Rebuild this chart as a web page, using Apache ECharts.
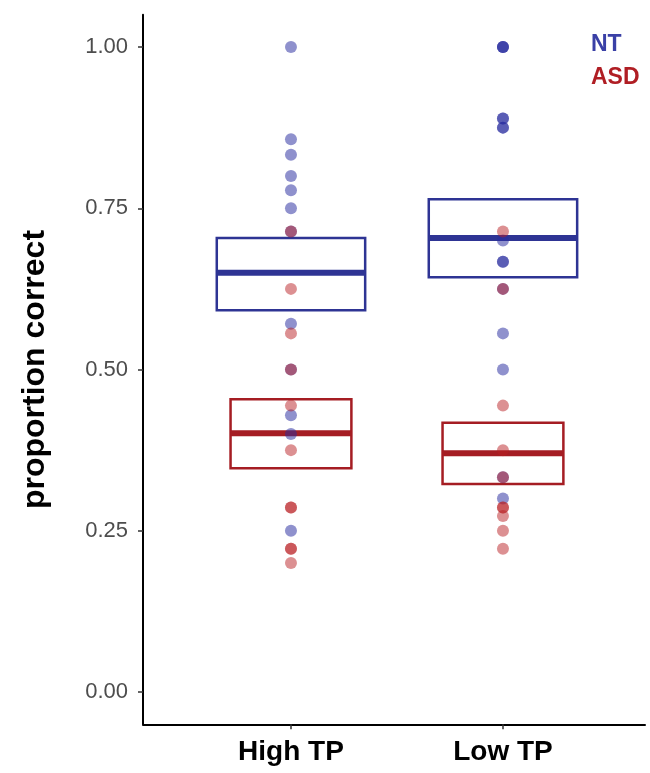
<!DOCTYPE html>
<html>
<head>
<meta charset="utf-8">
<script src="https://cdn.jsdelivr.net/npm/echarts@6/dist/echarts.min.js"></script>
<style>html,body{margin:0;padding:0;background:#fff}#chart{width:650px;height:773px}</style>
</head>
<body>
<div id="chart"></div>
<script>
const categories = ['High TP', 'Low TP'];
const yTicks = [0, 0.25, 0.5, 0.75, 1.0];

// individual participant proportions (index 0 = High TP, 1 = Low TP)
const ntHigh = [1.0, 0.857, 0.833, 0.8, 0.778, 0.75, 0.714, 0.571, 0.5, 0.429, 0.4, 0.25];
const asdHigh = [0.714, 0.625, 0.556, 0.5, 0.444, 0.375, 0.286, 0.286, 0.222, 0.222, 0.2];
const ntLow = [1.0, 1.0, 1.0, 0.889, 0.889, 0.875, 0.875, 0.7, 0.667, 0.667, 0.625, 0.556, 0.5, 0.333, 0.3];
const asdLow = [0.714, 0.625, 0.444, 0.375, 0.333, 0.286, 0.286, 0.273, 0.25, 0.222];

// crossbar summaries
const ntMean = [0.650, 0.704];
const ntLower = [0.592, 0.643];
const ntUpper = [0.704, 0.764];
const asdMean = [0.401, 0.370];
const asdLower = [0.347, 0.3225];
const asdUpper = [0.454, 0.4175];

const NT_COLOR = '#2E3494';
const ASD_COLOR = '#A51D23';

function pts(idx, arr) { return arr.map(v => [idx, v]); }
function boxData(lo, mid, hi) { return categories.map((c, i) => [i, lo[i], mid[i], hi[i]]); }

function makeBox(color, frac) {
  return function (params, api) {
    const x = api.value(0);
    const pLo = api.coord([x, api.value(1)]);
    const pMid = api.coord([x, api.value(2)]);
    const pHi = api.coord([x, api.value(3)]);
    const band = api.size([1, 0])[0];
    const w = band * frac;
    const x0 = pLo[0] - w / 2;
    return {
      type: 'group',
      children: [
        { type: 'rect', shape: { x: x0, y: pHi[1], width: w, height: pLo[1] - pHi[1] },
          style: { fill: 'none', stroke: color, lineWidth: 2.5 } },
        { type: 'line', shape: { x1: x0, y1: pMid[1], x2: x0 + w, y2: pMid[1] },
          style: { stroke: color, lineWidth: 6 } }
      ]
    };
  };
}

const chart = echarts.init(document.getElementById('chart'));
const FONT = 'Liberation Sans, Arial, sans-serif';
chart.setOption({
  animation: false,
  textStyle: { fontFamily: FONT },
  grid: { left: 143, right: 5, top: 14.75, bottom: 48.75 },
  legend: {
    orient: 'vertical', left: 581, top: 28, itemWidth: 0, itemHeight: 0, itemGap: 10,
    icon: 'rect', selectedMode: false,
    data: [
      { name: 'NT', textStyle: { color: '#3A40A6' } },
      { name: 'ASD', textStyle: { color: '#B01E24' } }
    ],
    textStyle: { fontSize: 23, fontWeight: 'bold', fontFamily: FONT }
  },
  xAxis: {
    type: 'value', min: -0.698, max: 1.670,
    splitLine: { show: false },
    axisLine: { onZero: false, lineStyle: { color: '#000', width: 2 } },
    axisTick: { show: true, length: 5, customValues: [0, 1], lineStyle: { color: '#333', width: 1.5 } },
    axisLabel: { customValues: [0, 1], formatter: v => categories[Math.round(v)] || '',
      fontSize: 28, fontWeight: 'bold', color: '#000', margin: 14, fontFamily: FONT }
  },
  yAxis: {
    type: 'value', min: -0.05, max: 1.05,
    name: 'proportion correct', nameLocation: 'middle', nameGap: 92,
    nameTextStyle: { fontSize: 32, fontWeight: 'bold', color: '#000', fontFamily: FONT },
    splitLine: { show: false },
    axisLine: { show: true, onZero: false, lineStyle: { color: '#000', width: 2 } },
    axisTick: { show: true, length: 5, customValues: yTicks, lineStyle: { color: '#333', width: 1.5 } },
    axisLabel: { customValues: yTicks, formatter: v => v.toFixed(2),
      fontSize: 22, color: '#4D4D4D', margin: 15, fontFamily: FONT }
  },
  series: [
    { type: 'custom', name: 'NT box', renderItem: makeBox(NT_COLOR, 0.70),
      data: boxData(ntLower, ntMean, ntUpper), encode: { x: 0, y: [1, 2, 3] }, z: 2 },
    { type: 'custom', name: 'ASD box', renderItem: makeBox(ASD_COLOR, 0.57),
      data: boxData(asdLower, asdMean, asdUpper), encode: { x: 0, y: [1, 2, 3] }, z: 2 },
    { type: 'scatter', name: 'NT', symbolSize: 12, z: 3,
      itemStyle: { color: 'rgba(40,45,160,0.65)' },
      data: pts(0, ntHigh).concat(pts(1, ntLow)) },
    { type: 'scatter', name: 'ASD', symbolSize: 12, z: 3,
      itemStyle: { color: 'rgba(185,30,35,0.62)' },
      data: pts(0, asdHigh).concat(pts(1, asdLow)) }
  ]
});
</script>
</body>
</html>
